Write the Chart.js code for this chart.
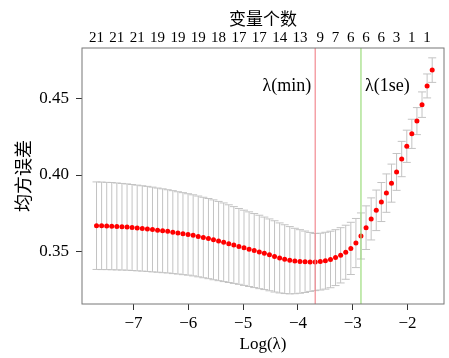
<!DOCTYPE html>
<html>
<head>
<meta charset="utf-8">
<script src="https://cdn.jsdelivr.net/npm/chart.js@4"></script>
<style>
  html, body { margin: 0; padding: 0; background: #fff; }
  #wrap { width: 449px; height: 358px; }
</style>
</head>
<body>
<div id="wrap"><canvas id="cvChart" width="449" height="358"></canvas></div>
<script>
// log(lambda) grid of the cross-validation
const logLambda = [
  -7.675, -7.582, -7.489, -7.397, -7.304, -7.211, -7.118, -7.026, -6.933, -6.840,
  -6.747, -6.654, -6.561, -6.469, -6.376, -6.283, -6.190, -6.098, -6.005, -5.912,
  -5.819, -5.726, -5.633, -5.541, -5.448, -5.355, -5.262, -5.170, -5.077, -4.984,
  -4.891, -4.798, -4.705, -4.613, -4.520, -4.427, -4.334, -4.242, -4.149, -4.056,
  -3.963, -3.870, -3.778, -3.685, -3.592, -3.499, -3.406, -3.314, -3.221, -3.128,
  -3.035, -2.942, -2.850, -2.757, -2.664, -2.571, -2.478, -2.386, -2.293, -2.200,
  -2.107, -2.014, -1.922, -1.829, -1.736, -1.643, -1.550
];
// mean cross-validated error
const cvm = [
  0.3670, 0.3669, 0.3668, 0.3667, 0.3665, 0.3663, 0.3661, 0.3658, 0.3655, 0.3652,
  0.3649, 0.3645, 0.3641, 0.3637, 0.3633, 0.3628, 0.3623, 0.3618, 0.3613, 0.3607,
  0.3600, 0.3593, 0.3586, 0.3578, 0.3570, 0.3562, 0.3553, 0.3544, 0.3535, 0.3526,
  0.3517, 0.3508, 0.3499, 0.3490, 0.3480, 0.3470, 0.3460, 0.3452, 0.3445, 0.3440,
  0.3437, 0.3435, 0.3434, 0.3433, 0.3436, 0.3442, 0.3450, 0.3462, 0.3477, 0.3497,
  0.3522, 0.3557, 0.3603, 0.3657, 0.3714, 0.3770, 0.3824, 0.3882, 0.3947, 0.4020,
  0.4104, 0.4187, 0.4268, 0.4351, 0.4458, 0.4580, 0.4683
];
// standard error (half height of each error bar)
const cvsd = [
  0.0285, 0.0285, 0.0284, 0.0284, 0.0283, 0.0282, 0.0281, 0.0280, 0.0279, 0.0278,
  0.0277, 0.0276, 0.0274, 0.0273, 0.0271, 0.0270, 0.0268, 0.0267, 0.0265, 0.0264,
  0.0263, 0.0262, 0.0261, 0.0260, 0.0258, 0.0256, 0.0253, 0.0250, 0.0247, 0.0245,
  0.0243, 0.0241, 0.0239, 0.0236, 0.0234, 0.0232, 0.0228, 0.0224, 0.0219, 0.0213,
  0.0207, 0.0200, 0.0192, 0.0186, 0.0185, 0.0185, 0.0184, 0.0182, 0.0180, 0.0176,
  0.0170, 0.0160, 0.0150, 0.0142, 0.0137, 0.0132, 0.0127, 0.0125, 0.0124, 0.0120,
  0.0115, 0.0105, 0.0095, 0.0088, 0.0083, 0.0078, 0.0080
];
// number of non-zero variables shown on the top axis
const topIdx = [0, 4, 8, 12, 16, 20, 24, 28, 32, 36, 40, 44, 47, 50, 53, 56, 59, 62, 65];
const topLabels = ['21', '21', '21', '19', '19', '19', '18', '17', '17', '14', '13', '9', '7', '6', '6', '6', '3', '1', '1'];

const xTicks = [-7, -6, -5, -4, -3, -2];
const yTicks = [0.35, 0.40, 0.45];
const idxMin = 43;
const idx1se = 52;

const serif = "'Liberation Serif', 'Times New Roman', serif";
const cjk = "'Noto Sans CJK SC', sans-serif";

const meanPts = logLambda.map((x, i) => ({ x: x, y: cvm[i] }));
const upPts = logLambda.map((x, i) => ({ x: x, y: cvm[i] + cvsd[i] }));
const loPts = logLambda.map((x, i) => ({ x: x, y: cvm[i] - cvsd[i] }));
const stemPts = [];
logLambda.forEach((x, i) => {
  stemPts.push({ x: x, y: cvm[i] - cvsd[i] });
  stemPts.push({ x: x, y: cvm[i] + cvsd[i] });
  stemPts.push({ x: x, y: null });
});

const barGray = 'rgb(195,195,195)';

const frame = {
  id: 'frame',
  afterDatasetsDraw(chart) {
    const { ctx, chartArea: a, scales } = chart;
    const x = scales.x;
    ctx.save();
    ctx.lineWidth = 1.2;
    ctx.strokeStyle = '#f28a92';
    let px = x.getPixelForValue(logLambda[idxMin]);
    ctx.beginPath(); ctx.moveTo(px, a.top); ctx.lineTo(px, a.bottom); ctx.stroke();
    ctx.fillStyle = '#000';
    ctx.font = '18px ' + serif;
    ctx.textBaseline = 'middle';
    ctx.textAlign = 'right';
    ctx.fillText('λ(min)', px - 4, a.top + 38);

    ctx.strokeStyle = '#9cdc7c';
    px = x.getPixelForValue(logLambda[idx1se]);
    ctx.beginPath(); ctx.moveTo(px, a.top); ctx.lineTo(px, a.bottom); ctx.stroke();
    ctx.textAlign = 'left';
    ctx.fillText('λ(1se)', px + 4, a.top + 38);

    ctx.strokeStyle = '#777';
    ctx.lineWidth = 1;
    ctx.strokeRect(a.left, a.top, a.right - a.left, a.bottom - a.top);
    ctx.restore();
  }
};

new Chart(document.getElementById('cvChart'), {
  type: 'scatter',
  data: {
    datasets: [
      {
        data: meanPts,
        order: 0,
        pointRadius: 2.5,
        pointBackgroundColor: '#ff0000',
        pointBorderWidth: 0,
        showLine: false
      },
      {
        data: stemPts,
        order: 1,
        showLine: true,
        spanGaps: false,
        pointRadius: 0,
        borderColor: barGray,
        borderWidth: 1
      },
      {
        data: upPts,
        order: 1,
        pointStyle: 'line',
        pointRadius: 4,
        pointBorderColor: barGray,
        pointBorderWidth: 1
      },
      {
        data: loPts,
        order: 1,
        pointStyle: 'line',
        pointRadius: 4,
        pointBorderColor: barGray,
        pointBorderWidth: 1
      }
    ]
  },
  options: {
    responsive: false,
    animation: false,
    layout: { padding: { left: 0, right: 2, top: 0, bottom: 0 } },
    plugins: { legend: { display: false }, tooltip: { enabled: false } },
    scales: {
      x: {
        type: 'linear',
        position: 'bottom',
        min: -7.94,
        max: -1.335,
        afterBuildTicks: s => { s.ticks = xTicks.map(v => ({ value: v })); },
        afterFit: s => { s.height = 54; },
        grid: { drawOnChartArea: false, drawTicks: true, tickLength: 6, tickColor: '#333', color: '#333' },
        border: { display: false },
        ticks: {
          color: '#000',
          font: { family: serif, size: 17 },
          padding: 3,
          maxRotation: 0,
          autoSkip: false,
          callback: v => (v < 0 ? '\u2212' + Math.abs(v) : String(v))
        },
        title: {
          display: true,
          text: 'Log(λ)',
          color: '#000',
          font: { family: serif, size: 17 },
          padding: { top: 0, bottom: 3 }
        }
      },
      xTop: {
        type: 'linear',
        position: 'top',
        min: -7.94,
        max: -1.335,
        afterBuildTicks: s => { s.ticks = topIdx.map(i => ({ value: logLambda[i] })); },
        afterFit: s => { s.height = 48; },
        grid: { display: false, drawTicks: false },
        border: { display: false },
        ticks: {
          color: '#000',
          font: { family: serif, size: 15 },
          padding: 1,
          maxRotation: 0,
          autoSkip: false,
          callback: (v, i) => topLabels[i]
        },
        title: {
          display: true,
          text: '变量个数',
          color: '#000',
          font: { family: cjk, size: 17 },
          padding: { top: 8, bottom: 0 }
        }
      },
      y: {
        type: 'linear',
        min: 0.316,
        max: 0.4827,
        afterBuildTicks: s => { s.ticks = yTicks.map(v => ({ value: v })); },
        afterFit: s => { s.width = 82; },
        grid: { drawOnChartArea: false, drawTicks: true, tickLength: 6, tickColor: '#333', color: '#333' },
        border: { display: false },
        ticks: {
          color: '#000',
          font: { family: serif, size: 17 },
          padding: 7,
          callback: v => v.toFixed(2)
        },
        title: {
          display: true,
          text: '均方误差',
          color: '#000',
          font: { family: cjk, size: 18 },
          padding: { top: 12, bottom: 0 }
        }
      }
    }
  },
  plugins: [frame]
});
</script>
</body>
</html>
